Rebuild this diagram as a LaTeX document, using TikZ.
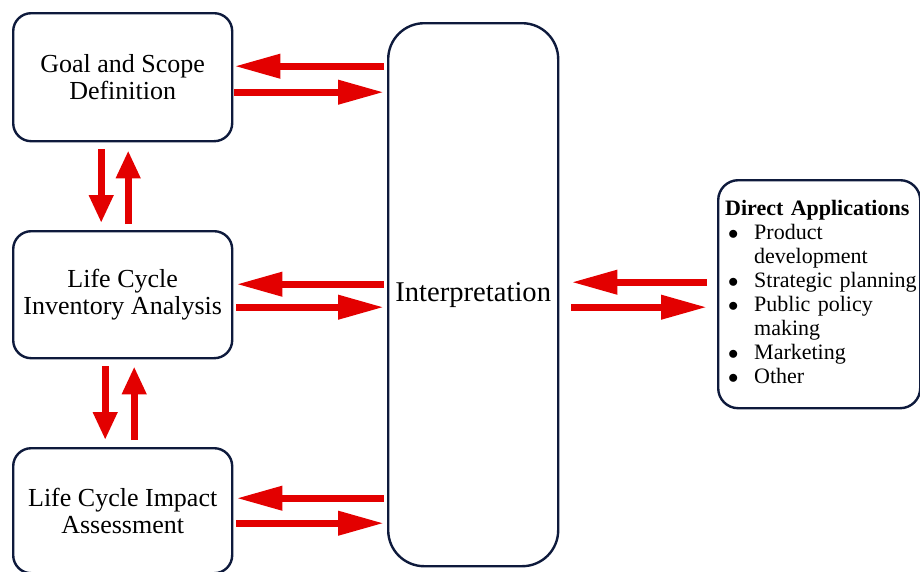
\documentclass[tikz,border=0pt]{standalone}
\usepackage{fontspec}
\setmainfont{Liberation Serif}
\usetikzlibrary{arrows.meta,calc}
\definecolor{boxline}{HTML}{0E1A3C}
\definecolor{flowred}{HTML}{E30000}
\newcommand{\appbullet}{\hspace*{3pt}$\bullet$}
\begin{document}
\begin{tikzpicture}[x=1pt,y=-1pt,
  stage/.style={draw=boxline, line width=2.4pt, rounded corners=18pt, fill=white,
    minimum width=219pt, align=center, inner sep=0pt, anchor=north west,
    font=\fontsize{26}{27}\selectfont},
  flow/.style={draw=flowred, line width=7pt, -{Triangle[length=46pt,width=23pt]}},
  vflow/.style={draw=flowred, line width=7pt, -{Triangle[length=28pt,width=23pt]}},
]
\useasboundingbox (0,0) rectangle (920,571);
\clip (0,0) rectangle (920,571);

% the three phases on the left
\node[stage, minimum height=128pt] (goal) at (12,12) {Goal and Scope\\Definition};
\node[stage, minimum height=127pt] (lci) at (12,230) {Life Cycle\\Inventory Analysis};
\node[stage, minimum height=125pt] (lcia) at (12,447) {Life Cycle Impact\\Assessment};

% central interpretation phase
\node[draw=boxline, line width=2.4pt, rounded corners=36pt, minimum width=170pt,
  minimum height=543pt, anchor=north west, inner sep=0pt,
  font=\fontsize{28.6}{30}\selectfont] (interp) at (387,22) {Interpretation};

% direct applications
\node[draw=boxline, line width=2.4pt, rounded corners=20pt, anchor=north west,
  text width=188pt, inner xsep=7pt, inner ysep=0pt, minimum height=228pt, align=left,
  font=\fontsize{22}{24}\selectfont] (apps) at (717,179) {%
  \begin{tabular}{@{}p{29pt}@{}l@{}}
  \multicolumn{2}{@{}l@{}}{\textbf{Direct Applications}}\\
  \appbullet & Product\\
   & development\\
  \appbullet & Strategic planning\\
  \appbullet & Public policy\\
   & making\\
  \appbullet & Marketing\\
  \appbullet & Other
  \end{tabular}};

% exchanges with interpretation
\draw[flow] ($(interp.west |- goal.east)+(-3,-11)$) -- ($(goal.east)+(1,-11)$);
\draw[flow] ($(goal.east)+(1,15)$) -- ($(interp.west |- goal.east)+(-3,15)$);
\draw[flow] ($(interp.west |- lci.east)+(-3,-10.5)$) -- ($(lci.east)+(3,-10.5)$);
\draw[flow] ($(lci.east)+(3,12.5)$) -- ($(interp.west |- lci.east)+(-3,12.5)$);
\draw[flow] ($(interp.west |- lcia.east)+(-3,-12.5)$) -- ($(lcia.east)+(3,-12.5)$);
\draw[flow] ($(lcia.east)+(3,12.5)$) -- ($(interp.west |- lcia.east)+(-3,12.5)$);
\draw[flow] ($(apps.west)+(-10,-12)$) -- ($(interp.east |- apps.west)+(12,-12)$);
\draw[flow] ($(interp.east |- apps.west)+(12,13)$) -- ($(apps.west)+(-10,13)$);

% iterations between phases
\draw[vflow] ($(goal.south)+(-21.5,7)$) -- ($(lci.north)+(-21.5,-7)$);
\draw[vflow] ($(lci.north)+(5.5,-6)$) -- ($(goal.south)+(5.5,8)$);
\draw[vflow] ($(lci.south)+(-17.5,7)$) -- ($(lcia.north)+(-17.5,-7)$);
\draw[vflow] ($(lcia.north)+(11.5,-7)$) -- ($(lci.south)+(11.5,7)$);
\end{tikzpicture}
\end{document}
